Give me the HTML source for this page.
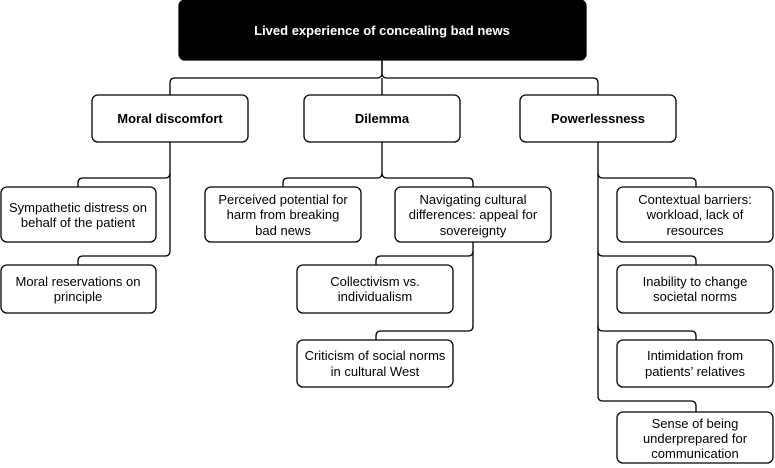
<!DOCTYPE html>
<html><head><meta charset="utf-8"><style>
body{margin:0;background:#fff;width:775px;height:468px;overflow:hidden}
svg{display:block}
text{font-family:"Liberation Sans",Arial,sans-serif;font-size:13px;fill:#000}
.b{font-weight:bold}
rect{fill:#fff;stroke:#000;stroke-width:1.3}
path{fill:none;stroke:#000;stroke-width:1.3}
</style></head><body>
<svg width="775" height="468" viewBox="0 0 775 468">
<path d="M382 60V73q0 5 -5 5H175q-5 0 -5 5V95"/>
<path d="M382 60V73q0 5 5 5H593q5 0 5 5V95"/>
<path d="M382 78V95"/>
<path d="M170 142V251q0 5 -5 5H83q-5 0 -5 5V265"/>
<path d="M170 173q0 5 -5 5H83q-5 0 -5 5V187"/>
<path d="M382 142V173q0 5 -5 5H288q-5 0 -5 5V187"/>
<path d="M382 173q0 5 5 5H468q5 0 5 5V187"/>
<path d="M473 242V326q0 5 -5 5H381q-5 0 -5 5V340"/>
<path d="M473 251q0 5 -5 5H381q-5 0 -5 5V265"/>
<path d="M598 142V396q0 5 5 5H691q5 0 5 5V412"/>
<path d="M598 173q0 5 5 5H691q5 0 5 5V187"/>
<path d="M598 251q0 5 5 5H691q5 0 5 5V265"/>
<path d="M598 326q0 5 5 5H691q5 0 5 5V340"/>
<rect x="179" y="0" width="407" height="60" rx="6" style="fill:#000"/>
<text x="382" y="35" text-anchor="middle" class="b" style="fill:#fff">Lived experience of concealing bad news</text>
<rect x="92" y="95" width="156" height="47" rx="6"/><text x="170" y="123" text-anchor="middle" class="b">Moral discomfort</text>
<rect x="304" y="95" width="156" height="47" rx="6"/><text x="382" y="123" text-anchor="middle" class="b">Dilemma</text>
<rect x="520" y="95" width="156" height="47" rx="6"/><text x="598" y="123" text-anchor="middle" class="b">Powerlessness</text>
<rect x="1" y="187" width="155" height="55" rx="6"/>
<text x="78" y="212" text-anchor="middle">Sympathetic distress on</text><text x="78" y="227" text-anchor="middle">behalf of the patient</text>
<rect x="1" y="265" width="155" height="48" rx="6"/>
<text x="78" y="286" text-anchor="middle">Moral reservations on</text><text x="78" y="301" text-anchor="middle">principle</text>
<rect x="205" y="187" width="156" height="55" rx="6"/>
<text x="283" y="204" text-anchor="middle">Perceived potential for</text><text x="283" y="219" text-anchor="middle">harm from breaking</text><text x="283" y="235" text-anchor="middle">bad news</text>
<rect x="395" y="187" width="156" height="55" rx="6"/>
<text x="473" y="204" text-anchor="middle">Navigating cultural</text><text x="473" y="219" text-anchor="middle">differences: appeal for</text><text x="473" y="235" text-anchor="middle">sovereignty</text>
<rect x="297" y="265" width="156" height="48" rx="6"/>
<text x="375" y="286" text-anchor="middle">Collectivism vs.</text><text x="375" y="301" text-anchor="middle">individualism</text>
<rect x="297" y="340" width="156" height="47" rx="6"/>
<text x="375" y="360" text-anchor="middle">Criticism of social norms</text><text x="375" y="376" text-anchor="middle">in cultural West</text>
<rect x="617" y="187" width="156" height="55" rx="6"/>
<text x="695" y="204" text-anchor="middle">Contextual barriers:</text><text x="695" y="219" text-anchor="middle">workload, lack of</text><text x="695" y="235" text-anchor="middle">resources</text>
<rect x="617" y="265" width="156" height="48" rx="6"/>
<text x="695" y="286" text-anchor="middle">Inability to change</text><text x="695" y="301" text-anchor="middle">societal norms</text>
<rect x="617" y="340" width="156" height="47" rx="6"/>
<text x="695" y="360" text-anchor="middle">Intimidation from</text><text x="695" y="376" text-anchor="middle">patients’ relatives</text>
<rect x="617" y="412" width="156" height="51" rx="6"/>
<text x="695" y="428" text-anchor="middle">Sense of being</text><text x="695" y="443" text-anchor="middle">underprepared for</text><text x="695" y="458" text-anchor="middle">communication</text>
</svg>
</body></html>
